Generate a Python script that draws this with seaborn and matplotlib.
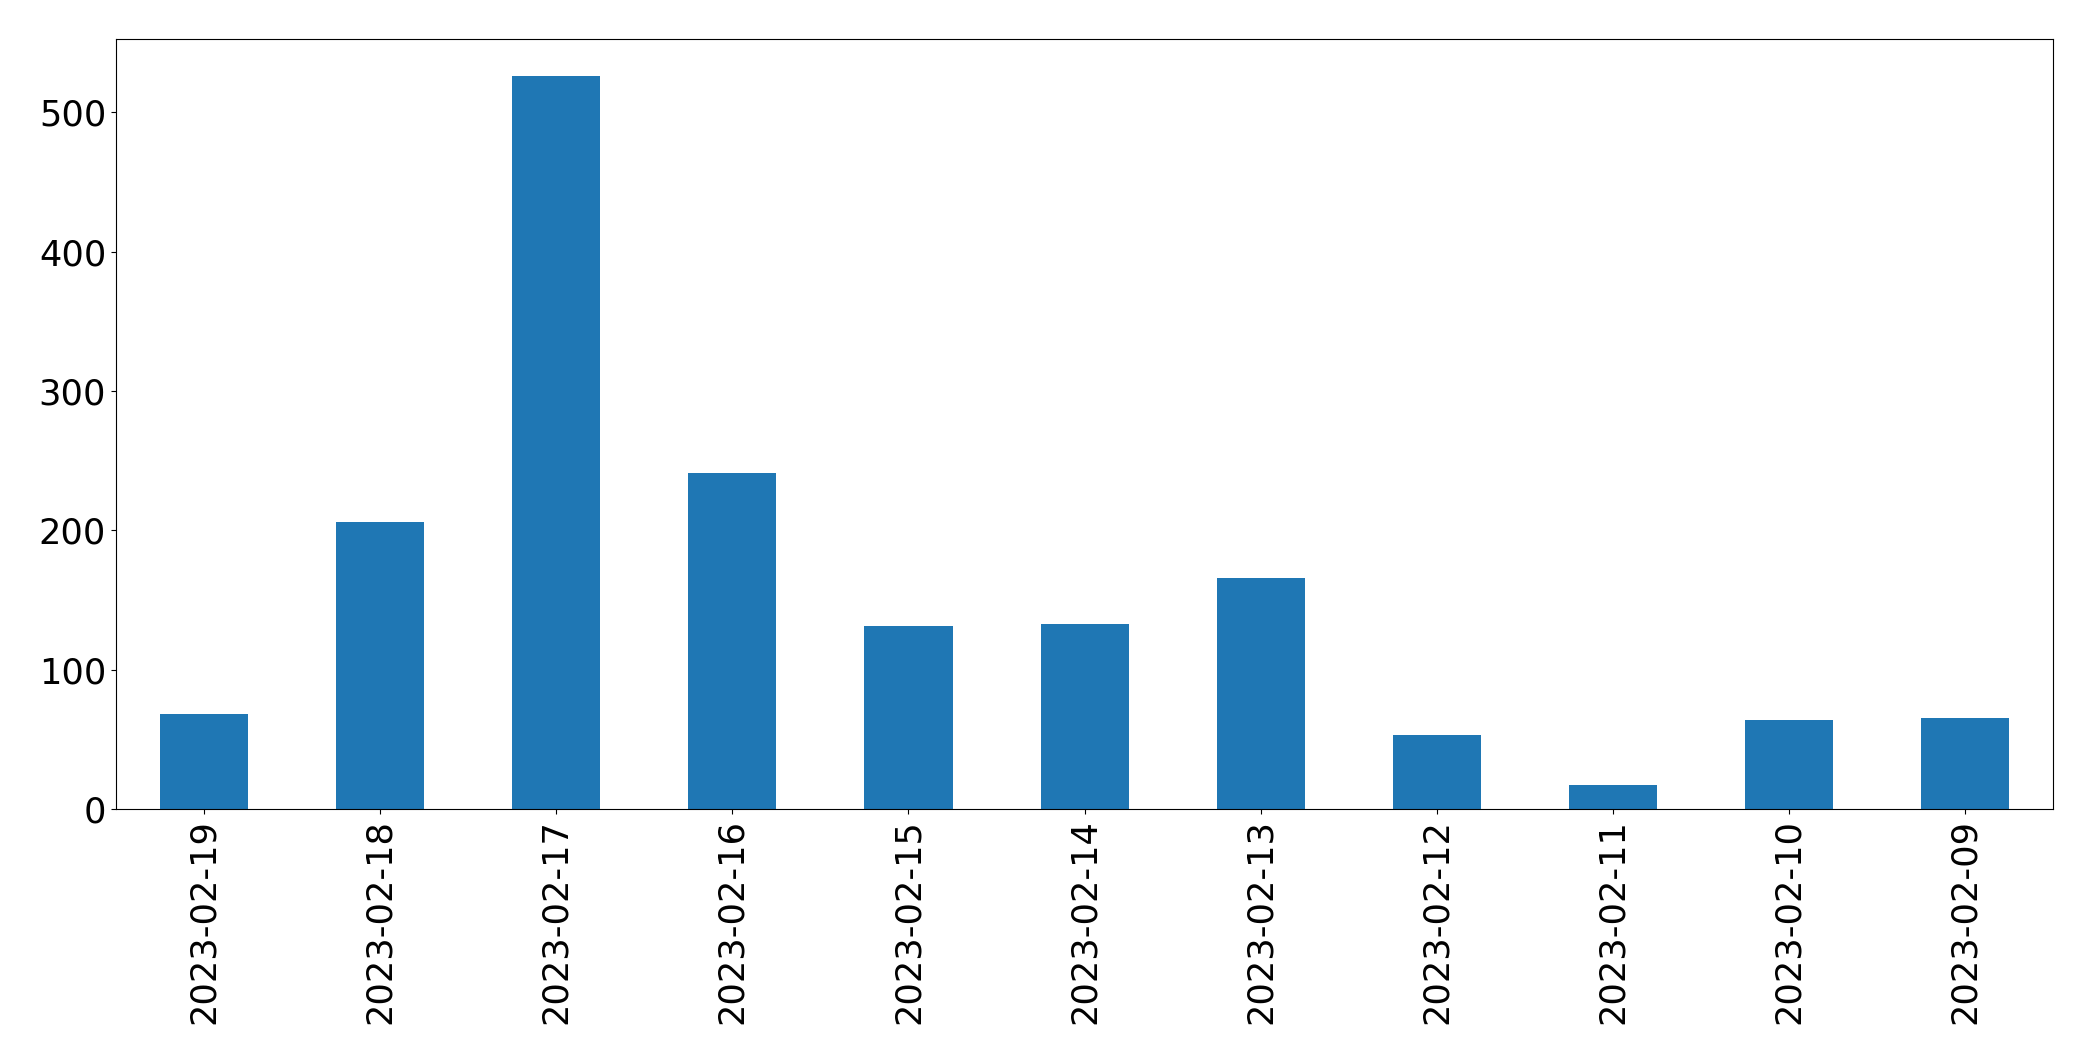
import matplotlib
matplotlib.use("Agg")
from matplotlib import pyplot as plt
import pandas as pd
import seaborn as sns

# daily counts, newest first (as in the reference)
dates = ['2023-02-19', '2023-02-18', '2023-02-17', '2023-02-16', '2023-02-15',
         '2023-02-14', '2023-02-13', '2023-02-12', '2023-02-11', '2023-02-10',
         '2023-02-09']
counts = [68, 206, 526, 241, 131, 133, 166, 53, 17, 64, 65]

df = pd.DataFrame({'date': dates, 'count': counts})

fig, ax = plt.subplots(figsize=(20.93, 10.61), dpi=100)
sns.barplot(data=df, x='date', y='count', order=dates, color='#1f77b4',
            saturation=1, width=0.5, ax=ax)
ax.set_xlabel('')
ax.set_ylabel('')
ax.tick_params(axis='x', labelrotation=90, labelsize=25.3)
ax.tick_params(axis='y', labelsize=25.3)
ax.set_xlim(-0.5, len(dates) - 0.5)
ax.set_ylim(0, max(counts) * 1.05)
for sp in ax.spines.values():
    sp.set_color('black')
fig.subplots_adjust(left=0.0554, right=0.981, top=0.963, bottom=0.2375)
fig.savefig('out.png', dpi=100)
